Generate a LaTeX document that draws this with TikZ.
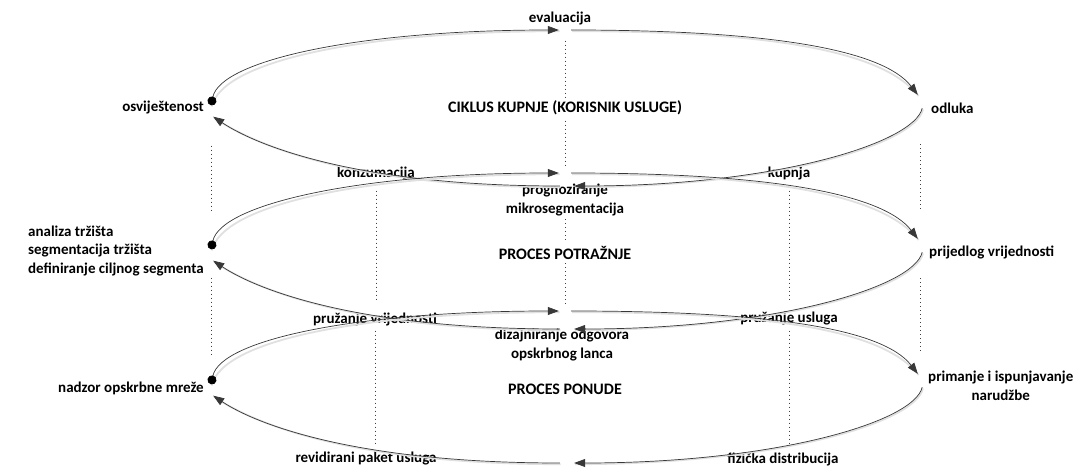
\documentclass[tikz,border=0pt]{standalone}
\usepackage{fontspec}
\setmainfont{Carlito}[BoldFont={Carlito Bold}]
\usetikzlibrary{arrows.meta}

\tikzset{
  lbl/.style={font=\bfseries\fontsize{15}{18.5}\selectfont, inner sep=1pt, align=center},
  ttl/.style={lbl, font=\bfseries\fontsize{16}{18.5}\selectfont, fill=white, inner sep=3pt},
  lvtx/.style={inner sep=0pt, minimum width=4pt, minimum height=11pt},
  tvtx/.style={inner sep=0pt, minimum width=12pt},
  rvtx/.style={inner sep=0pt, minimum width=4pt, minimum height=13pt},
  bvtx/.style={inner sep=0pt, minimum width=14pt},
  cyc/.style={draw=black!78, line width=0.7pt,
    preaction={draw=black!12, line width=1.8pt, arrows=-, transform canvas={shift={(0.8pt,-1.2pt)}}}},
  pillar/.style={draw=black!75, line width=1pt, dash pattern=on 1.1pt off 2.9pt}
}

\begin{document}
\begin{tikzpicture}[x=1pt, y=-1pt]
	\useasboundingbox (0,0) rectangle (1088,470);
	
	% Corners of the cycles
	\node[lvtx] (l1) at (211,111) {};
	\node[tvtx] (t1) at (565,30) {};
	\node[rvtx] (r1) at (920,101.5) {};
	\node[bvtx] (b1) at (567,186) {};
	
	\node[lvtx] (l2) at (211,255) {};
	\node[tvtx] (t2) at (565,173) {};
	\node[rvtx] (r2) at (920,245.5) {};
	\node[bvtx] (b2) at (567,329) {};
	
	\node[lvtx] (l3) at (211,390) {};
	\node[tvtx] (t3) at (565,311) {};
	\node[rvtx] (r3) at (920,380.5) {};
	\node[bvtx] (b3) at (567,463) {};
	
	% Labels
	\node[lbl] (eval) at (560,19) {evaluacija};
	\node[lbl, anchor=east] (osv) at (205,108) {osviještenost};
	\node[lbl, anchor=west] (odl) at (930,108) {odluka};
	\node[lbl] (konz) at (376,174) {konzumacija};
	\node[lbl] (kup) at (789,174) {kupnja};
	\node[lbl] (prog) at (565,200) {prognoziranje\\mikrosegmentacija};
	
	\node[lbl, anchor=east, align=left] (anal) at (205,251) {analiza tržišta\\segmentacija tržišta\\definiranje ciljnog segmenta};
	\node[lbl, anchor=west] (prij) at (928,252) {prijedlog vrijednosti};
	\node[lbl] (pv) at (375,319) {pružanje vrijednosti};
	\node[lbl] (pu) at (789,319) {pružanje usluga};
	\node[lbl] (diz) at (562,345) {dizajniranje odgovora\\opskrbnog lanca};
	
	\node[lbl, anchor=east] (nadz) at (205,388) {nadzor opskrbne mreže};
	\node[lbl, anchor=west] (prim) at (927,386) {primanje i ispunjavanje\\narudžbe};
	\node[lbl] (rev) at (366,459) {revidirani paket usluga};
	\node[lbl] (fiz) at (783,459) {fizička distribucija};
	
	% Dotted links between the levels
	\draw[pillar, shorten <=29pt, shorten >=37pt] (l1) -- (l2);
	\draw[pillar, shorten <=17pt, shorten >=30pt] (l2) -- (l3);
	\draw[pillar, shorten <=36pt, shorten >=28pt] (r1) -- (r2);
	\draw[pillar, shorten <=26pt, shorten >=21pt] (r2) -- (r3);
	\draw[pillar, shorten <=10pt, shorten >=6pt] (t1) -- (t2);
	\draw[pillar, shorten <=2pt, shorten >=4pt] (prog.south) -- (t3);
	\draw[pillar, shorten <=9pt, shorten >=10pt] (konz.south) -- (konz.south |- pv.north);
	\draw[pillar, shorten <=4pt, shorten >=5pt] (pv.south) -- (pv.south |- rev.north);
	\draw[pillar, shorten <=9pt, shorten >=10pt] (kup.south) -- (kup.south |- pu.north);
	\draw[pillar, shorten <=4pt, shorten >=5pt] (pu.south) -- (pu.south |- fiz.north);
	
	% Titles
	\node[ttl] (ciklus) at (565,108) {CIKLUS KUPNJE (KORISNIK USLUGE)};
	\node[ttl] (potr) at (565,253) {PROCES POTRAŽNJE};
	\node[ttl] (pon) at (565,389) {PROCES PONUDE};
	
	% Cycles
	\draw[cyc, {Circle[length=9pt, black]}-{Triangle[length=11pt, width=8pt]}] (l1.north) .. controls +(10,-45) and +(-200,0) .. (t1.west);
	\draw[cyc, -{Triangle[length=11pt, width=8pt]}] (t1.east) .. controls +(200,0) and +(-35,-45) .. (r1.north west);
	\draw[cyc, -{Triangle[length=11pt, width=8pt]}] (r1.south east) .. controls +(-8,35) and +(200,0) .. (b1.east);
	\draw[cyc, -{Triangle[length=11pt, width=8pt]}] (b1.west) .. controls +(-200,0) and +(45,30) .. (l1.south east);
	
	\draw[cyc, {Circle[length=9pt, black]}-{Triangle[length=11pt, width=8pt]}] (l2.north) .. controls +(10,-45) and +(-200,0) .. (t2.west);
	\draw[cyc, -{Triangle[length=11pt, width=8pt]}] (t2.east) .. controls +(200,0) and +(-35,-45) .. (r2.north west);
	\draw[cyc, -{Triangle[length=11pt, width=8pt]}] (r2.south east) .. controls +(-8,35) and +(200,0) .. (b2.east);
	\draw[cyc, -{Triangle[length=11pt, width=8pt]}] (b2.west) .. controls +(-200,0) and +(45,30) .. (l2.south east);
	
	\draw[cyc, {Circle[length=9pt, black]}-{Triangle[length=11pt, width=8pt]}] (l3.north) .. controls +(10,-45) and +(-200,0) .. (t3.west);
	\draw[cyc, -{Triangle[length=11pt, width=8pt]}] (t3.east) .. controls +(200,0) and +(-35,-45) .. (r3.north west);
	\draw[cyc, -{Triangle[length=11pt, width=8pt]}] (r3.south east) .. controls +(-8,35) and +(200,0) .. (b3.east);
	\draw[cyc, -{Triangle[length=11pt, width=8pt]}] (b3.west) .. controls +(-200,0) and +(45,30) .. (l3.south east);
	
\end{tikzpicture}
\end{document}
